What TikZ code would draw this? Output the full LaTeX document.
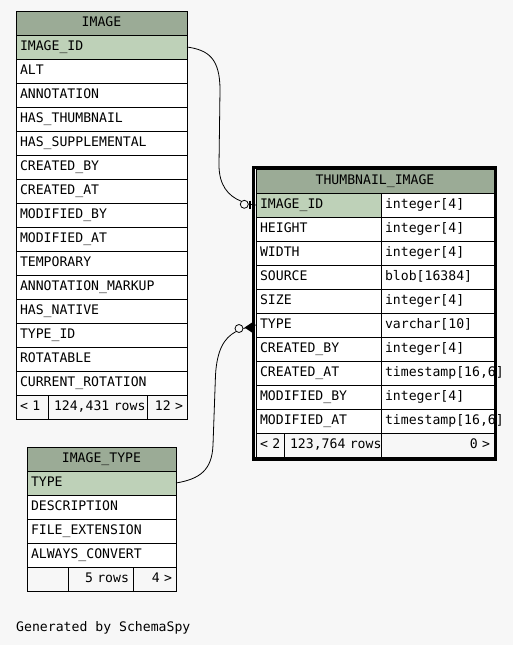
\documentclass[tikz,border=0pt]{standalone}
\usepackage{fontspec}
\newfontfamily\schmono{DejaVu Sans Mono}[HyphenChar=None]
\definecolor{bg}{HTML}{F7F7F7}
\definecolor{hdr}{HTML}{9BAB96}
\definecolor{pk}{HTML}{BED1B8}
\tikzset{
  cell/.style={draw=black, line width=1pt, inner xsep=4pt, inner ysep=0pt,
    outer sep=0pt, minimum height=24pt, anchor=north west,
    font=\schmono\fontsize{13.15}{15}\selectfont,
    text height=10pt, text depth=3pt, fill=white},
  hcell/.style={cell, fill=hdr, align=center},
  pkcell/.style={cell, fill=pk, align=left},
  lcell/.style={cell, align=left},
  fcell/.style={cell, fill=bg},
  conn/.style={draw=black, line width=0.8pt},
  odot/.style={circle, draw=black, line width=0.8pt, fill=bg, minimum size=8pt, inner sep=0pt},
}
\newcommand{\rc}[4]{\node[lcell, text width=#3] (#1) at (#2) {\mbox{#4}};}
\begin{document}
\begin{tikzpicture}[x=1pt,y=-1pt]
\path[fill=bg] (0,0) rectangle (513,645);
\useasboundingbox (0,0) rectangle (513,645);

% ---------- IMAGE ----------
\node[hcell, text width=163pt] (img) at (16,11) {\mbox{IMAGE}};
\node[pkcell, text width=163pt] (imgid) at (16,35) {\mbox{IMAGE\_ID}};
\rc{imgalt}{16,59}{163pt}{ALT}
\rc{imgann}{16,83}{163pt}{ANNOTATION}
\rc{imghth}{16,107}{163pt}{HAS\_THUMBNAIL}
\rc{imghsu}{16,131}{163pt}{HAS\_SUPPLEMENTAL}
\rc{imgcby}{16,155}{163pt}{CREATED\_BY}
\rc{imgcat}{16,179}{163pt}{CREATED\_AT}
\rc{imgmby}{16,203}{163pt}{MODIFIED\_BY}
\rc{imgmat}{16,227}{163pt}{MODIFIED\_AT}
\rc{imgtmp}{16,251}{163pt}{TEMPORARY}
\rc{imgamk}{16,275}{163pt}{ANNOTATION\_MARKUP}
\rc{imghna}{16,299}{163pt}{HAS\_NATIVE}
\rc{imgtid}{16,323}{163pt}{TYPE\_ID}
\rc{imgrot}{16,347}{163pt}{ROTATABLE}
\rc{imgcro}{16,371}{163pt}{CURRENT\_ROTATION}
\node[fcell, text width=24pt, align=left] (imgf1) at (16,395) {\mbox{< 1}};
\node[fcell, text width=91pt, align=left] (imgf2) at (48,395) {\mbox{\hspace{2pt}124,431 rows}};
\node[fcell, text width=32pt, align=right] (imgf3) at (147,395) {\mbox{12 >}};

% ---------- THUMBNAIL_IMAGE ----------
\node[hcell, text width=230pt] (th) at (256,169) {\mbox{THUMBNAIL\_IMAGE}};
\node[pkcell, text width=117pt] (thid) at (256,193) {\mbox{IMAGE\_ID}};
\rc{thidt}{381,193}{105pt}{integer[4]}
\rc{thhei}{256,217}{117pt}{HEIGHT}
\rc{thheit}{381,217}{105pt}{integer[4]}
\rc{thwid}{256,241}{117pt}{WIDTH}
\rc{thwidt}{381,241}{105pt}{integer[4]}
\rc{thsrc}{256,265}{117pt}{SOURCE}
\rc{thsrct}{381,265}{105pt}{blob[16384]}
\rc{thsiz}{256,289}{117pt}{SIZE}
\rc{thsizt}{381,289}{105pt}{integer[4]}
\rc{thtyp}{256,313}{117pt}{TYPE}
\rc{thtypt}{381,313}{105pt}{varchar[10]}
\rc{thcby}{256,337}{117pt}{CREATED\_BY}
\rc{thcbyt}{381,337}{105pt}{integer[4]}
\rc{thcat}{256,361}{117pt}{CREATED\_AT}
\rc{thcatt}{381,361}{105pt}{timestamp[16,6]}
\rc{thmby}{256,385}{117pt}{MODIFIED\_BY}
\rc{thmbyt}{381,385}{105pt}{integer[4]}
\rc{thmat}{256,409}{117pt}{MODIFIED\_AT}
\rc{thmatt}{381,409}{105pt}{timestamp[16,6]}
\node[fcell, text width=20pt, align=left] (thf1) at (256,433) {\mbox{< 2}};
\node[fcell, text width=89pt, align=left] (thf2) at (284,433) {\mbox{\hspace{2pt}123,764 rows}};
\node[fcell, text width=105pt, align=right] (thf3) at (381,433) {\mbox{0 >}};

% ---------- IMAGE_TYPE ----------
\node[hcell, text width=141pt] (it) at (27,447) {\mbox{IMAGE\_TYPE}};
\node[pkcell, text width=141pt] (ittype) at (27,471) {\mbox{TYPE}};
\rc{itdesc}{27,495}{141pt}{DESCRIPTION}
\rc{itext}{27,519}{141pt}{FILE\_EXTENSION}
\rc{itconv}{27,543}{141pt}{ALWAYS\_CONVERT}
\node[fcell, text width=33pt, align=left] (itf1) at (27,567) {};
\node[fcell, text width=57pt, align=right] (itf2) at (68,567) {\mbox{5 rows}};
\node[fcell, text width=35pt, align=right] (itf3) at (133,567) {\mbox{4 >}};

% ---------- connectors ----------
\node[odot] (c1) at (244.3,204.3) {};
\node[odot] (c2) at (239,328.5) {};
\path[conn] (imgid.east) .. controls (208,50) and (220,58) .. (220,90)
  -- (219,165) .. controls (219,185) and (228,196) .. (c1.north west);
\path[conn] (c1.east) -- (thid.west);
\draw[line width=1.6pt] (250,200.5) -- (250,209);
\path[conn] (ittype.east) .. controls (200,479) and (212,470) .. (213,445)
  -- (215.5,375) .. controls (217,350) and (224,338) .. (c2.south west);
\path[conn] (c2.east) -- (thtyp.west);
\fill (244.5,327.5) -- (252,322.5) -- (252,332.5) -- cycle;

% thick frame of the selected table
\node[draw=black, line width=3.5pt, minimum width=242pt, minimum height=291.5pt,
  inner sep=0pt, outer sep=0pt, anchor=north west] (thframe) at (253.5,167.5) {};

% footer text
\node[anchor=base west, inner sep=0pt, font=\schmono\fontsize{13.15}{15}\selectfont] (gen) at (16,631) {Generated by SchemaSpy};
\end{tikzpicture}
\end{document}
